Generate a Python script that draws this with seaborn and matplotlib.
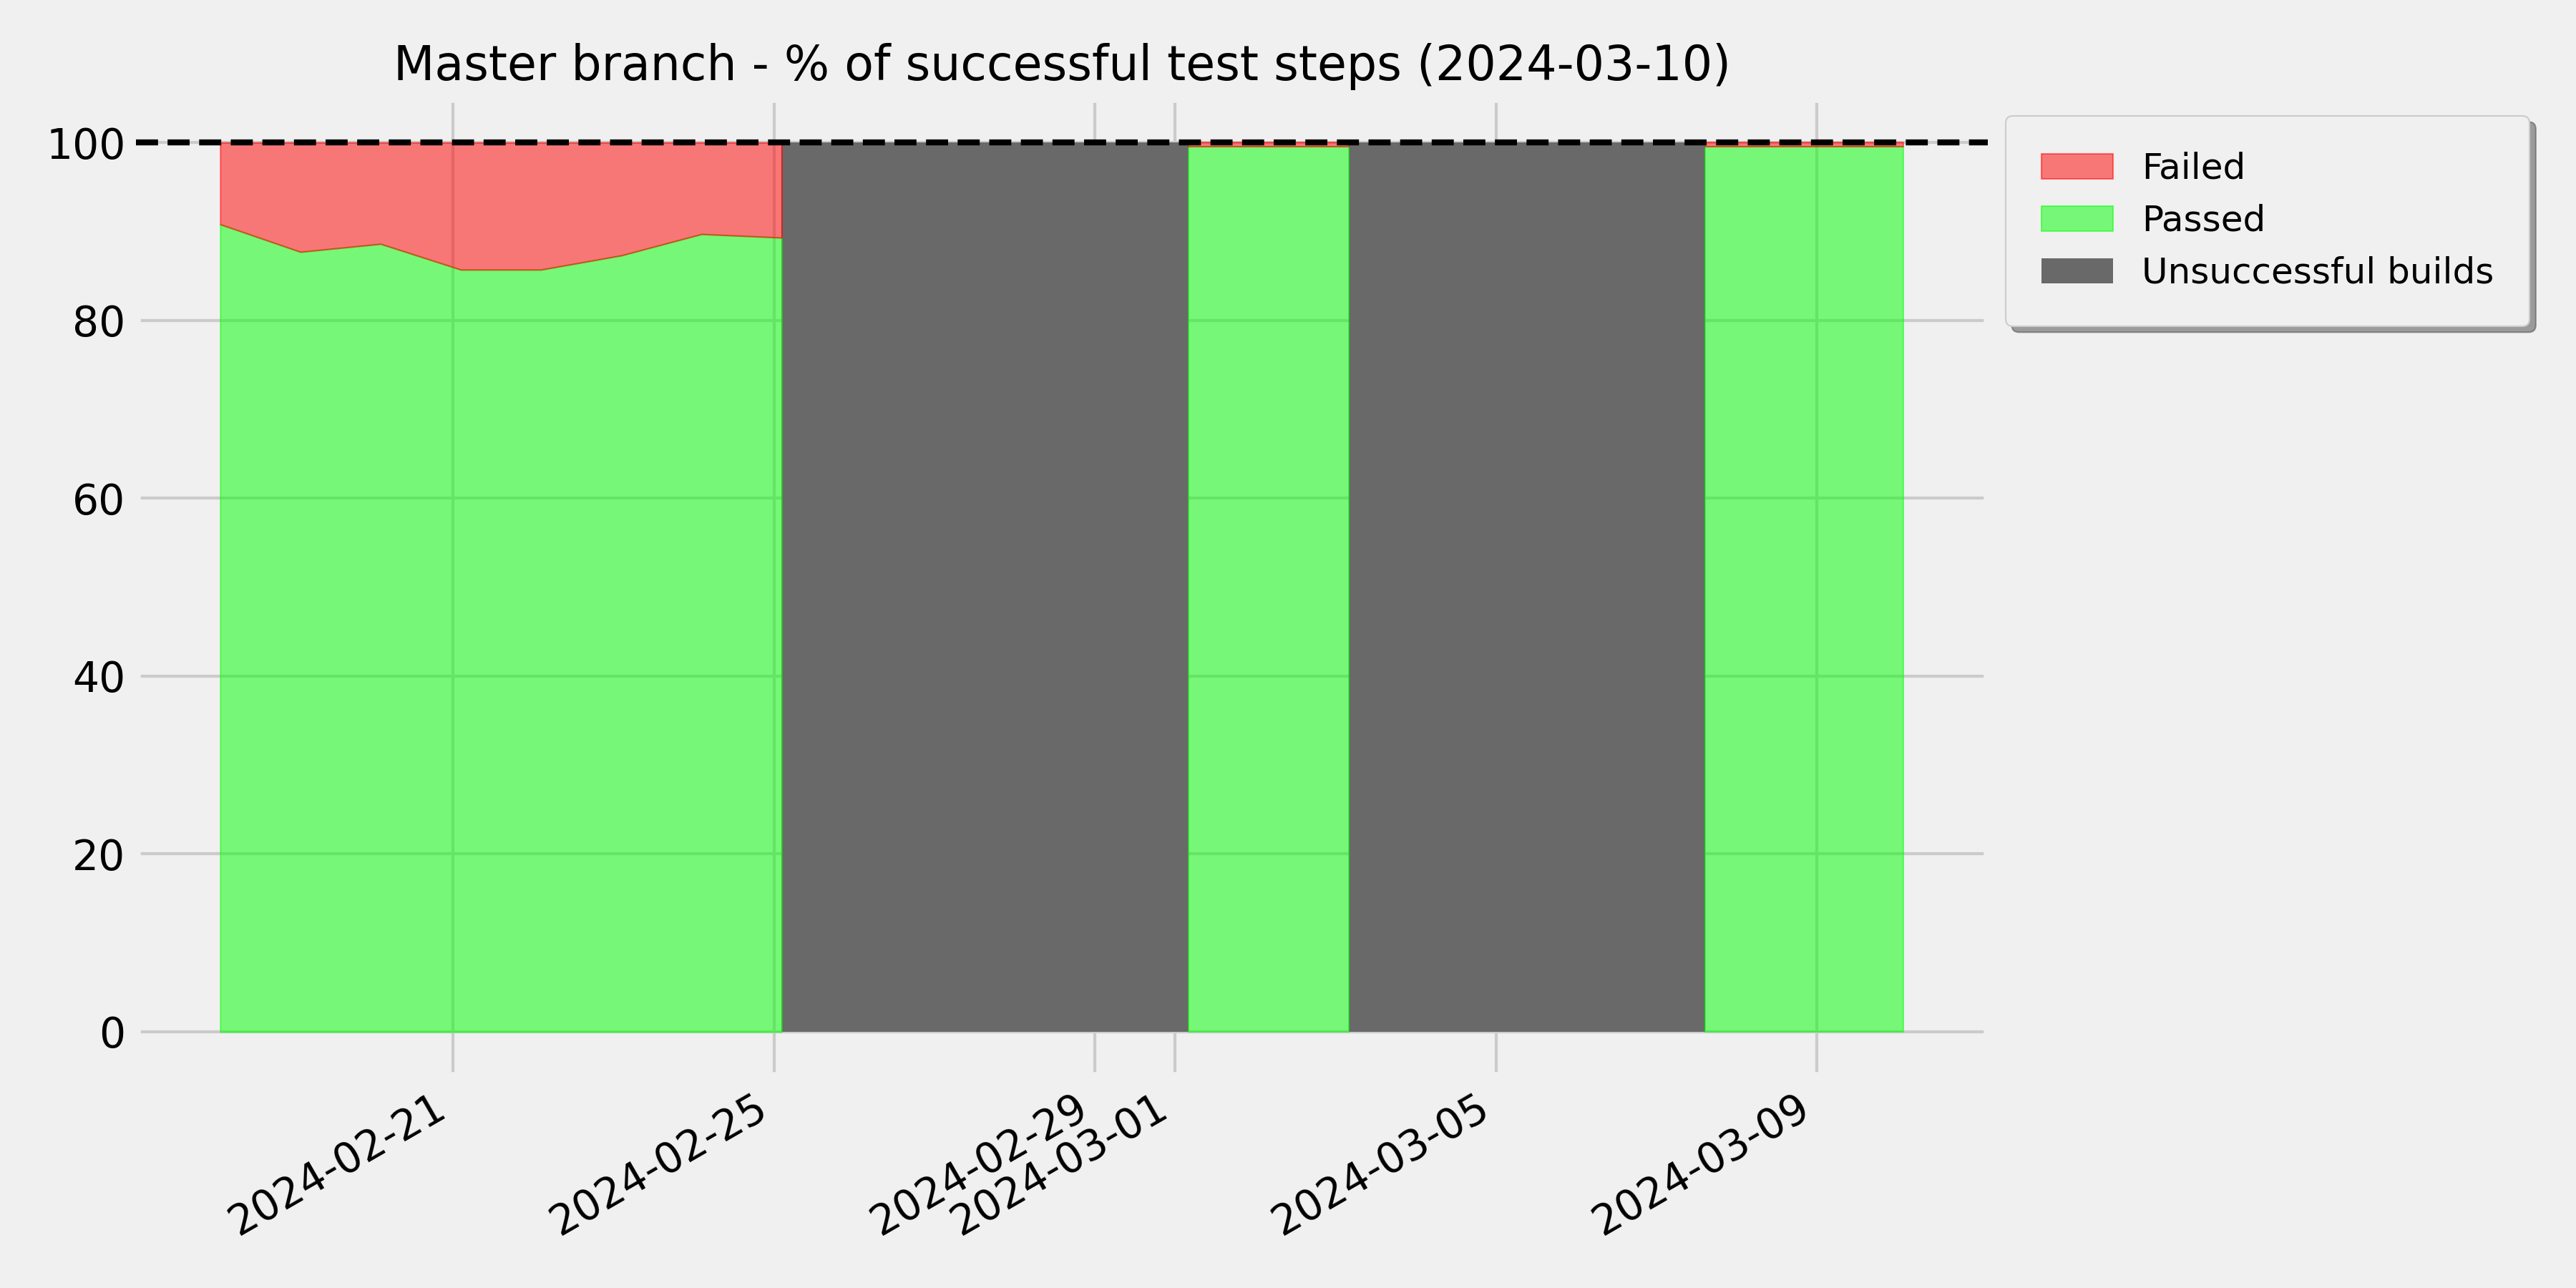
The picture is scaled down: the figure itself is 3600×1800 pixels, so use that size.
import matplotlib
matplotlib.use("Agg")
import matplotlib.dates as mdates
import matplotlib.pyplot as plt
import numpy as np
import pandas as pd
import seaborn as sns

TITLE = "Master branch - % of successful test steps (2024-03-10)"
LABELS = ["Failed", "Passed", "Unsuccessful builds"]

# runs of successful builds (% of passed test steps)
run_a_dates = [
    "2024-02-18 02:15", "2024-02-19 02:15", "2024-02-20 02:15", "2024-02-21 02:15",
    "2024-02-22 02:15", "2024-02-23 02:15", "2024-02-24 02:15", "2024-02-25 02:15",
]
run_a_passed = [90.8, 87.7, 88.6, 85.7, 85.7, 87.3, 89.7, 89.3]

run_b_dates = ["2024-03-01 04:00", "2024-03-02 04:00", "2024-03-03 04:00"]
run_b_passed = [99.5, 99.5, 99.5]

run_c_dates = ["2024-03-07 14:40", "2024-03-08 14:40", "2024-03-09 14:40", "2024-03-10 02:00"]
run_c_passed = [99.5, 99.5, 99.5, 99.5]

# periods where the build itself failed
broken_start = ["2024-02-25 02:15", "2024-03-03 04:00"]
broken_end = ["2024-03-01 04:00", "2024-03-07 14:40"]


def main() -> None:
    plt.style.use("fivethirtyeight")
    red, lime, gray = sns.color_palette(["red", "lime", "dimgray"])

    fig, ax = plt.subplots(figsize=(12, 6), dpi=300)

    h_gray = None
    for start, end in zip(broken_start, broken_end):
        h_gray = ax.fill_between(pd.to_datetime([start, end]), 0, 100, color=gray, linewidth=0)

    h_pass = h_fail = None
    runs = [(run_a_dates, run_a_passed), (run_b_dates, run_b_passed), (run_c_dates, run_c_passed)]
    for dates, passed in runs:
        x = pd.to_datetime(dates)
        p = np.array(passed)
        h_pass = ax.fill_between(x, 0, p, color=lime, alpha=0.5)
        h_fail = ax.fill_between(x, p, 100, color=red, alpha=0.5)

    ax.axhline(100, color="black", linestyle="--", linewidth=2, zorder=5)

    ax.xaxis.set_major_locator(mdates.DayLocator(bymonthday=range(1, 32, 4)))
    ax.xaxis.set_major_formatter(mdates.DateFormatter("%Y-%m-%d"))
    plt.setp(ax.get_xticklabels(), rotation=30, ha="right")

    ax.set_title(TITLE, fontsize=16)
    ax.legend([h_fail, h_pass, h_gray], LABELS, loc="upper left",
              bbox_to_anchor=(1, 1), fontsize=12, borderpad=1.0, shadow=True)

    fig.subplots_adjust(left=0.0528, right=0.7717, bottom=0.1644, top=0.9239)
    fig.savefig("out.png", dpi=300)
    plt.close(fig)


if __name__ == "__main__":
    main()
